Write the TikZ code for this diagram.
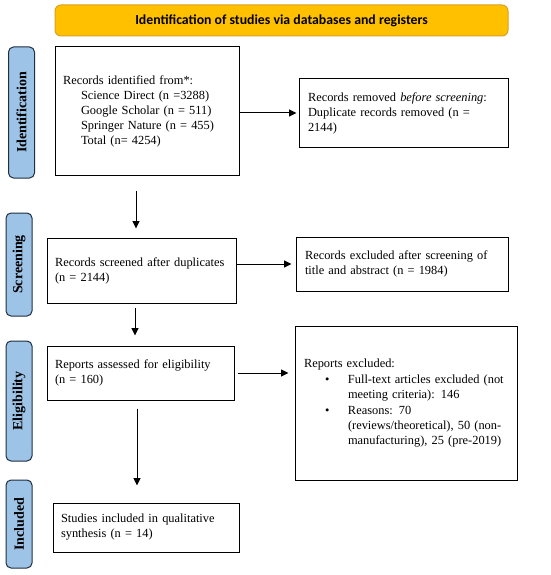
\documentclass[tikz,border=0pt]{standalone}
\usepackage{fontspec}
\setmainfont{Liberation Serif}
\newfontfamily\titlefont{Carlito}
\usetikzlibrary{arrows.meta}
\definecolor{titlefill}{HTML}{FFC000}
\definecolor{titleborder}{HTML}{D9A021}
\definecolor{stagefill}{HTML}{9DC3E6}
\definecolor{stageborder}{HTML}{1F2F3F}
\begin{document}
\begin{tikzpicture}[x=1pt,y=-1pt,
  box/.style={draw=black, line width=1pt, rectangle, inner xsep=8pt, inner ysep=0pt, align=left,
    font=\fontsize{12.4}{15}\selectfont},
  stage/.style={draw=stageborder, fill=stagefill, line width=1pt, rounded corners=5pt, rotate=90,
    minimum height=26pt, inner sep=0pt, font=\fontsize{14}{16}\selectfont\bfseries},
  arr/.style={line width=1pt, -{Triangle[length=7.5pt,width=7pt]}}
]
\useasboundingbox (0,0) rectangle (550,575);

\node[draw=titleborder, fill=titlefill, line width=1pt, rounded corners=6pt,
  minimum width=453pt, minimum height=31pt, inner sep=0pt,
  font=\titlefont\fontsize{13.8}{15}\selectfont\bfseries] (title) at (281.5,20.5)
  {Identification of studies via databases and registers};

\node[stage, minimum width=131pt] (sid) at (21.5,112.5) {Identification};
\node[stage, minimum width=103pt] (sscr) at (19,264.5) {Screening};
\node[stage, minimum width=120pt] (selig) at (19,401) {Eligibility};
\node[stage, minimum width=88pt] (sincl) at (19,524) {Included};

\node[box, minimum width=184pt, minimum height=128pt, text width=168pt] (recid) at (147,111)
  {Records identified from*:\\
   \hspace*{18pt}Science Direct (n =3288)\\
   \hspace*{18pt}Google Scholar (n = 511)\\
   \hspace*{18pt}Springer Nature (n = 455)\\
   \hspace*{18pt}Total (n= 4254)};

\node[box, minimum width=209pt, minimum height=68pt, text width=191pt] (removed) at (403.5,113)
  {Records removed \textit{before screening}:\\
   Duplicate records removed (n =\\
   2144)\\[4pt]};

\node[box, minimum width=189pt, minimum height=65pt, text width=173pt] (screened) at (141.5,270.5)
  {Records screened after duplicates\\
   (n = 2144)};

\node[box, minimum width=212pt, minimum height=54pt, text width=194pt] (excl) at (402,264)
  {Records excluded after screening of\\
   title and abstract (n = 1984)};

\node[box, minimum width=187pt, minimum height=54pt, text width=171pt] (elig) at (140.5,373)
  {Reports assessed for eligibility\\
   (n = 160)};

\node[box, minimum width=222pt, minimum height=154pt, text width=204pt] (repexcl) at (406,403)
  {Reports excluded:\\[1pt]
   \hspace*{21pt}\makebox[23pt][l]{\textbullet}Full-text articles excluded (not\\
   \hspace*{44pt}meeting criteria): 146\\[1pt]
   \hspace*{21pt}\makebox[23pt][l]{\textbullet}Reasons: 70\\
   \hspace*{44pt}(reviews/theoretical), 50 (non-\\
   \hspace*{44pt}manufacturing), 25 (pre-2019)};

\node[box, minimum width=186pt, minimum height=49pt, text width=170pt] (incl) at (146,527.5)
  {Studies included in qualitative\\
   synthesis (n = 14)};

\draw[arr, shorten >=2pt] (recid.east |- removed.west) -- (removed.west);
\draw[arr, shorten >=4pt] (screened.east |- excl.west) -- (excl.west);
\draw[arr, shorten >=3pt] ([xshift=3pt]elig.east) -- ([xshift=-3pt]elig.east -| repexcl.west);
\draw[arr] ([xshift=-11pt,yshift=-15pt]recid.south) -- ([xshift=-5.5pt,yshift=9pt]screened.north);
\draw[arr] ([xshift=-6.5pt,yshift=-4pt]screened.south) -- ([xshift=-5.5pt,yshift=10pt]elig.north);
\draw[arr] ([xshift=-3.5pt,yshift=-8pt]elig.south) -- ([xshift=-9pt,yshift=17pt]incl.north);
\end{tikzpicture}
\end{document}
